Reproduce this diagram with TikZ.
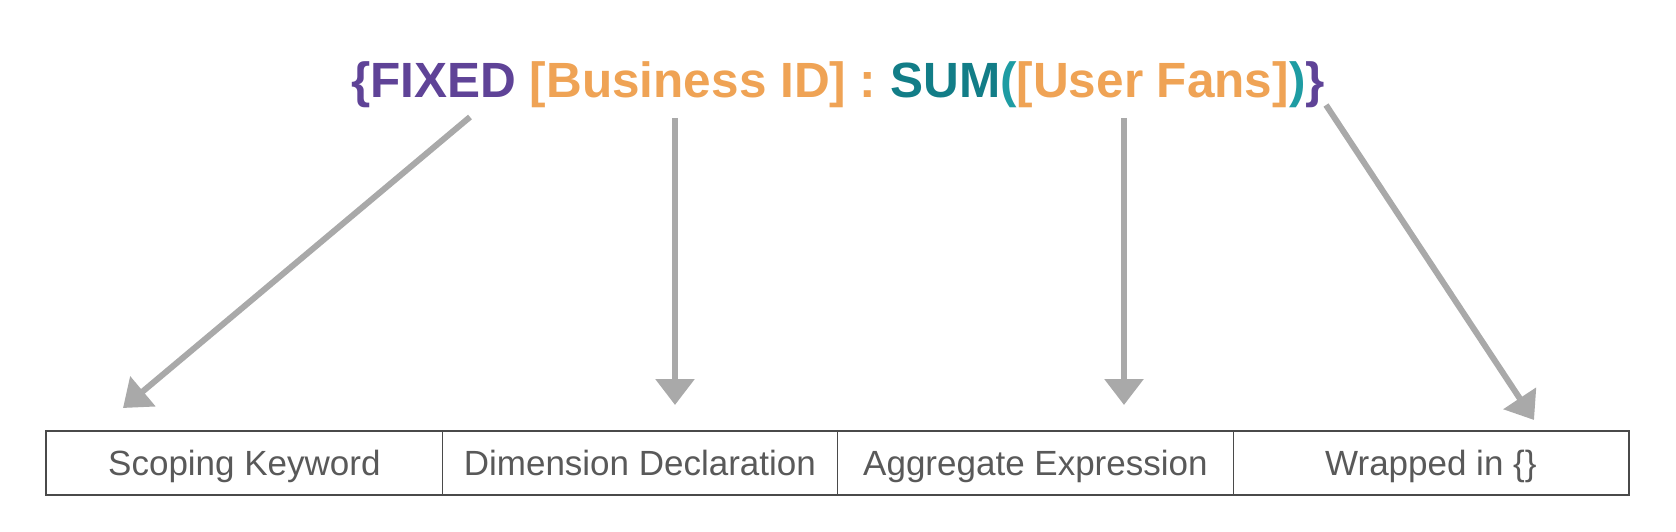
\documentclass[tikz,border=0pt]{standalone}
\usepackage{fontspec}
\setmainfont{Liberation Sans}
\usetikzlibrary{arrows.meta}
\definecolor{fxpurple}{HTML}{5F4397}
\definecolor{fxorange}{HTML}{EFA355}
\definecolor{fxteal}{HTML}{127D87}
\definecolor{fxteallight}{HTML}{1E9CA3}
\definecolor{arrowgray}{HTML}{A9A9A9}
\definecolor{boxline}{HTML}{4A4A4A}
\definecolor{celltext}{HTML}{595959}
\tikzset{
  pointer/.style={draw=arrowgray, line width=6pt,
    -{Triangle[width=38pt,length=26pt]}, arrowgray},
  cellbox/.style={draw=boxline, line width=1.3pt, minimum width=395.5pt,
    minimum height=63pt, inner sep=0pt, anchor=north west,
    text height=30pt, text depth=5pt,
    font=\fontsize{35}{40}\selectfont, text=celltext},
  titletext/.style={font=\fontsize{49.5}{56}\selectfont\bfseries, anchor=base, inner sep=0pt}
}
\begin{document}
\begin{tikzpicture}[x=1pt,y=-1pt]
\useasboundingbox (0,0) rectangle (1676,532);
\node[titletext] (title) at (838,98) {\textcolor{fxpurple}{\{FIXED} \textcolor{fxorange}{[Business ID] :} \textcolor{fxteal}{SUM}\textcolor{fxteallight}{(}\textcolor{fxorange}{[User Fans]}\textcolor{fxteallight}{)}\textcolor{fxpurple}{\}}};
\node[cellbox] (c1) at (46,431) {Scoping Keyword};
\node[cellbox] (c2) at (441.5,431) {Dimension Declaration};
\node[cellbox] (c3) at (837,431) {Aggregate Expression};
\node[cellbox] (c4) at (1232.5,431) {Wrapped in \{\}};
\draw[draw=boxline, line width=2.2pt] (c1.north west) rectangle (c4.south east);
\coordinate (s1) at (470,117);
\coordinate (e1) at (123,408);
\coordinate (s2) at (675,118);
\coordinate (e2) at (675,405);
\coordinate (s3) at (1124,118);
\coordinate (e3) at (1124,405);
\coordinate (s4) at (1326,105);
\coordinate (e4) at (1534,420);
\draw[pointer] (s1) -- (e1);
\draw[pointer] (s2) -- (e2);
\draw[pointer] (s3) -- (e3);
\draw[pointer] (s4) -- (e4);
\end{tikzpicture}
\end{document}
